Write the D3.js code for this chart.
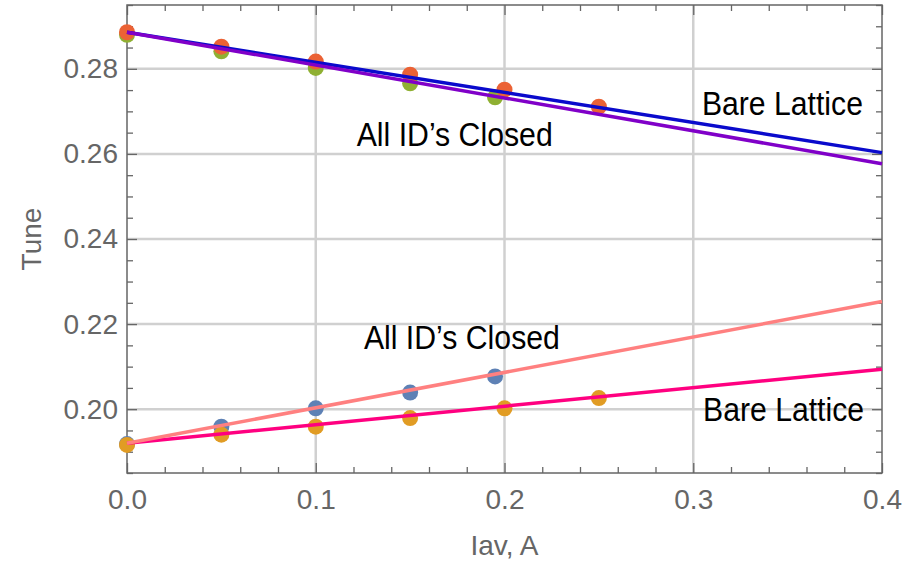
<!DOCTYPE html>
<html>
<head>
<meta charset="utf-8">
<script src="https://cdn.jsdelivr.net/npm/d3@7"></script>
<style>
    body { margin: 0; background: #fff; }
    text { font-family: "Liberation Sans", Arial, sans-serif; }
</style>
</head>
<body>
<div id="chart"></div>
<script>
// measured tunes vs average current
const xBare = [0, 0.05, 0.1, 0.15, 0.2, 0.25]
const xClosed = [0, 0.05, 0.1, 0.15, 0.195]
const closedLow = [0.1918, 0.1959, 0.2002, 0.2039, 0.2077]
const bareLow = [0.1916, 0.1940, 0.1959, 0.1979, 0.2002, 0.2026]
const closedHigh = [0.2880, 0.2841, 0.2802, 0.2766, 0.2733]
const bareHigh = [0.2886, 0.2852, 0.2817, 0.2786, 0.2751, 0.2711]

// fitted lines (value at 0 and at 0.4)
const fitX = [0, 0.4]
const bareHighFit = [0.2886, 0.2603]
const closedHighFit = [0.2886, 0.2577]
const closedLowFit = [0.1920, 0.2253]
const bareLowFit = [0.1920, 0.2094]

const xTicks = [0, 0.1, 0.2, 0.3, 0.4]
const yTicks = [0.20, 0.22, 0.24, 0.26, 0.28]

// text labels [x, y, text]
const labels = [
    [0.3046, 0.2692, "Bare Lattice"],
    [0.1217, 0.2618, "All ID\u2019s Closed"],
    [0.1255, 0.2142, "All ID\u2019s Closed"],
    [0.3052, 0.1973, "Bare Lattice"]
]

const margin = {top: 5, right: 34, bottom: 90, left: 127}
const width = 916 - margin.left - margin.right
const height = 563 - margin.top - margin.bottom

let svg = d3.select("#chart")
    .append("svg")
    .attr("width", 916)
    .attr("height", 563)

let plt = svg.append("g")
    .attr("transform", "translate(" + margin.left + "," + margin.top + ")")

const x = d3.scaleLinear().domain([0, 0.4]).range([0, width])
const y = d3.scaleLinear().domain([0.185, 0.295]).range([height, 0])

const xMinor = d3.range(0, 0.4001, 0.02).filter(v => Math.abs(v * 10 - Math.round(v * 10)) > 1e-6)
const yMinor = d3.range(0.185, 0.2951, 0.005).filter(v => Math.abs(v * 50 - Math.round(v * 50)) > 1e-6)

//Grid
plt.selectAll(".gx")
    .data(xTicks.filter(d => d > 0 && d < 0.4))
    .enter()
    .append("line")
    .attr("x1", d => x(d)).attr("x2", d => x(d))
    .attr("y1", 0).attr("y2", height)
    .style("stroke", "#d0d0d0")
    .style("stroke-width", 2.5)

plt.selectAll(".gy")
    .data(yTicks)
    .enter()
    .append("line")
    .attr("x1", 0).attr("x2", width)
    .attr("y1", d => y(d)).attr("y2", d => y(d))
    .style("stroke", "#d0d0d0")
    .style("stroke-width", 2.5)

//Axes: ticks point inward on all four sides
function styleAxis(g) {
    g.select(".domain").remove()
    g.selectAll(".tick line").style("stroke", "#666").style("stroke-width", 1.3)
    g.selectAll(".tick text").style("fill", "#666").style("font-size", "28px")
        .style("font-family", "'Liberation Sans', Arial, sans-serif")
}

plt.append("g").attr("transform", "translate(0," + height + ")")
    .call(d3.axisBottom(x).tickValues(xTicks).tickSize(-10).tickPadding(16).tickFormat(d3.format(".1f")))
    .call(styleAxis)
plt.append("g").attr("transform", "translate(0," + height + ")")
    .call(d3.axisBottom(x).tickValues(xMinor).tickSize(-6).tickFormat(""))
    .call(styleAxis)
plt.append("g")
    .call(d3.axisTop(x).tickValues(xTicks).tickSize(-10).tickFormat(""))
    .call(styleAxis)
plt.append("g")
    .call(d3.axisTop(x).tickValues(xMinor).tickSize(-6).tickFormat(""))
    .call(styleAxis)

plt.append("g")
    .call(d3.axisLeft(y).tickValues(yTicks).tickSize(-10).tickPadding(9).tickFormat(d3.format(".2f")))
    .call(styleAxis)
plt.append("g")
    .call(d3.axisLeft(y).tickValues(yMinor).tickSize(-6).tickFormat(""))
    .call(styleAxis)
plt.append("g").attr("transform", "translate(" + width + ",0)")
    .call(d3.axisRight(y).tickValues(yTicks).tickSize(-10).tickFormat(""))
    .call(styleAxis)
plt.append("g").attr("transform", "translate(" + width + ",0)")
    .call(d3.axisRight(y).tickValues(yMinor).tickSize(-6).tickFormat(""))
    .call(styleAxis)

plt.append("rect")
    .attr("width", width).attr("height", height)
    .style("fill", "none")
    .style("stroke", "#666")
    .style("stroke-width", 1.5)

//Points, in Mathematica series order
const pointSeries = [
    {xs: xClosed, ys: closedLow, color: "#5E81B5"},
    {xs: xBare, ys: bareLow, color: "#E19C24"},
    {xs: xClosed, ys: closedHigh, color: "#8FB032"},
    {xs: xBare, ys: bareHigh, color: "#EB6235"}
]
pointSeries.forEach(s => {
    plt.selectAll(null)
        .data(s.xs.map((v, i) => [v, s.ys[i]]))
        .enter()
        .append("circle")
        .attr("cx", d => x(d[0]))
        .attr("cy", d => y(d[1]))
        .attr("r", 8)
        .style("fill", s.color)
})

//Fit lines
const fits = [
    {ys: bareHighFit, color: "#0a0acc"},
    {ys: closedHighFit, color: "#8000c8"},
    {ys: bareLowFit, color: "#ff0080"},
    {ys: closedLowFit, color: "#ff8080"}
]
const line = d3.line().x(d => x(d[0])).y(d => y(d[1]))
fits.forEach(f => {
    plt.append("path")
        .attr("d", line(fitX.map((v, i) => [v, f.ys[i]])))
        .style("fill", "none")
        .style("stroke", f.color)
        .style("stroke-width", 3.5)
})

//Curve labels
plt.selectAll(".lbl")
    .data(labels)
    .enter()
    .append("text")
    .attr("x", d => x(d[0]))
    .attr("y", d => y(d[1]))
    .attr("textLength", d => d[2] === "Bare Lattice" ? 161 : 196)
    .attr("lengthAdjust", "spacingAndGlyphs")
    .style("font-size", "33px")
    .style("fill", "#000")
    .text(d => d[2])

//Axis titles
svg.append("text")
    .attr("x", margin.left + width / 2)
    .attr("y", 555)
    .style("text-anchor", "middle")
    .style("font-size", "28px")
    .style("fill", "#666")
    .text("Iav, A")

svg.append("text")
    .attr("transform", "translate(41," + (margin.top + height / 2) + ") rotate(-90)")
    .style("text-anchor", "middle")
    .style("font-size", "28px")
    .style("fill", "#666")
    .text("Tune")
</script>
</body>
</html>
